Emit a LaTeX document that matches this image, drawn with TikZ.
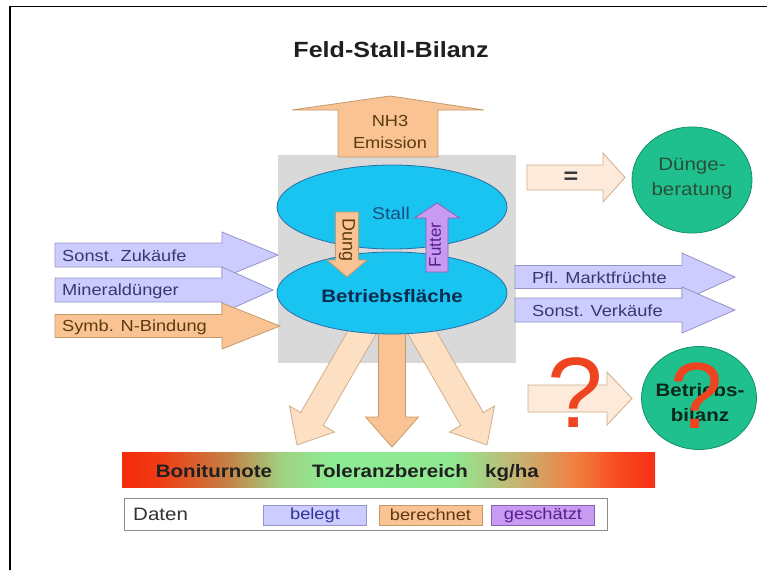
\documentclass[tikz,border=0pt]{standalone}
\usepackage{fontspec}
\setmainfont{Liberation Sans}[FakeStretch=1.14]
\newfontfamily\rotfont{Liberation Sans}
\usetikzlibrary{shapes.geometric}
\definecolor{lav}{HTML}{CCCCFF}
\definecolor{lavline}{HTML}{9494C8}
\definecolor{lavtext}{HTML}{38386E}
\definecolor{peach}{HTML}{F9C393}
\definecolor{peachline}{HTML}{C49A6C}
\definecolor{peachtext}{HTML}{5E3A12}
\definecolor{lightpeach}{HTML}{FDDFC4}
\definecolor{palepeach}{HTML}{FDEADB}
\definecolor{violet}{HTML}{C79BF2}
\definecolor{violetline}{HTML}{8A62B0}
\definecolor{violettext}{HTML}{5A1E8C}
\definecolor{cyanfill}{HTML}{19C4F0}
\definecolor{cyanline}{HTML}{2A6EA8}
\definecolor{greenfill}{HTML}{20C08E}
\definecolor{greenline}{HTML}{12906A}
\definecolor{grayback}{HTML}{D9D9D9}
\definecolor{qred}{HTML}{EE4420}
\definecolor{stalltxt}{HTML}{1A5080}
\definecolor{flaechetxt}{HTML}{0A2C50}
\definecolor{duengetxt}{HTML}{285038}
\definecolor{bilanztxt}{HTML}{0A281A}
\definecolor{belegttxt}{HTML}{323296}
\definecolor{barA}{HTML}{F52A0A}
\definecolor{barB}{HTML}{F03C14}
\definecolor{barC}{HTML}{C48246}
\definecolor{barD}{HTML}{A0D282}
\definecolor{barE}{HTML}{8CEC94}
\definecolor{barF}{HTML}{90E890}
\definecolor{barG}{HTML}{C8B070}
\definecolor{barH}{HTML}{F08040}
\definecolor{barI}{HTML}{F84A20}
\definecolor{barJ}{HTML}{F53015}
\pgfdeclarehorizontalshading{barshade}{100bp}{%
 color(0bp)=(barA); color(25bp)=(barA); color(28.5bp)=(barB); color(35bp)=(barC);
 color(40bp)=(barD); color(45bp)=(barE); color(56bp)=(barF); color(62.5bp)=(barG);
 color(67.5bp)=(barH); color(71.5bp)=(barI); color(75bp)=(barJ); color(100bp)=(barJ)}
\newcommand\arrowRight[7]{% style, x0, x1, x2, yc, hs, hh
 \filldraw[#1] (#2,#5-#6) -- (#3,#5-#6) -- (#3,#5-#7) -- (#4,#5) -- (#3,#5+#7) -- (#3,#5+#6) -- (#2,#5+#6) -- cycle;}
\newcommand\arrowVert[7]{% style, xc, y0, y1, y2, hs, hh
 \filldraw[#1] (#2-#6,#3) -- (#2-#6,#4) -- (#2-#7,#4) -- (#2,#5) -- (#2+#7,#4) -- (#2+#6,#4) -- (#2+#6,#3) -- cycle;}
\tikzset{
 lavarrow/.style={fill=lav, draw=lavline, line width=0.8pt},
 peacharrow/.style={fill=peach, draw=peachline, line width=0.8pt},
 lightarrow/.style={fill=lightpeach, draw=peachline!80, line width=0.8pt},
 palearrow/.style={fill=palepeach, draw=peachline!80, line width=0.8pt},
 violetarrow/.style={fill=violet, draw=violetline, line width=0.8pt},
 arrowlabel/.style={anchor=west, inner sep=0pt, font=\fontsize{16}{18}\selectfont},
 disc/.style={ellipse, fill=greenfill, draw=greenline, line width=0.8pt, inner sep=0pt, minimum width=120pt, minimum height=106pt},
 oval/.style={ellipse, fill=cyanfill, draw=cyanline, line width=0.8pt, inner sep=0pt, minimum width=230pt},
 qmark/.style={text=qred, inner sep=0pt, font=\rotfont\fontsize{100}{104}\selectfont},
 swatch/.style={minimum width=103pt, minimum height=20pt, inner sep=0pt, line width=0.8pt, font=\fontsize{16}{18}\selectfont},
 bartext/.style={font=\bfseries\fontsize{18}{20}\selectfont, text=black!88, inner sep=0pt, anchor=base},
}
\begin{document}
\begin{tikzpicture}[x=1pt,y=-1pt]
\useasboundingbox (0,0) rectangle (767,570);
\fill[white] (0,0) rectangle (767,570);
% frame
\draw[line width=1.8pt] (10,570) -- (10,6.5) -- (767,6.5);
% title
\node[font=\bfseries\fontsize{22}{26}\selectfont, text=black!88] (title) at (391,50) {Feld-Stall-Bilanz};
% grey background
\fill[grayback] (278,155) rectangle (516,363);
% NH3 arrow
\filldraw[peacharrow] (338,157) -- (338,110) -- (292,110) -- (390,96) -- (484,110) -- (438,110) -- (438,157) -- cycle;
\node[font=\fontsize{16}{18}\selectfont, text=peachtext] (nh3) at (390,121) {NH3};
\node[font=\fontsize{16}{18}\selectfont, text=peachtext] (emission) at (390,143) {Emission};
% bottom arrows
\begin{scope}[shift={(368,322)}, rotate=-30]
 \arrowVert{lightarrow}{0}{0}{112}{142}{13}{26}
\end{scope}
\begin{scope}[shift={(416,322)}, rotate=30]
 \arrowVert{lightarrow}{0}{0}{112}{142}{13}{26}
\end{scope}
\arrowVert{peacharrow}{392}{320}{417}{447}{13.5}{26.5}
% ellipses
\node[oval, minimum height=84pt] (stall) at (392,207) {};
\node[oval, minimum height=82pt] (flaeche) at (392,293) {};
\node[font=\fontsize{17}{20}\selectfont, text=stalltxt] (stalltext) at (391,213) {Stall};
\node[font=\bfseries\fontsize{18}{20}\selectfont, text=flaechetxt] (flaechetext) at (392,296) {Betriebsfläche};
% Dung and Futter
\arrowVert{peacharrow}{347}{212}{260}{277}{11.5}{20}
\node[rotate=-90, font=\rotfont\fontsize{18}{20}\selectfont, text=peachtext, inner sep=0pt] (dung) at (347,240) {Dung};
\arrowVert{violetarrow}{437}{272}{218}{203}{11}{22.5}
\node[rotate=90, font=\rotfont\fontsize{17}{20}\selectfont, text=violettext, inner sep=0pt] (futter) at (435,245) {Futter};
% left arrows
\arrowRight{lavarrow}{55}{222}{278}{255}{12}{23}
\node[arrowlabel, text=lavtext] (zukaeufe) at (62,256) {Sonst. Zukäufe};
\arrowRight{lavarrow}{55}{222}{273}{290}{12}{23}
\node[arrowlabel, text=lavtext] (mineral) at (62,291) {Mineraldünger};
\arrowRight{peacharrow}{55}{222}{280}{326}{11.5}{23}
\node[arrowlabel, text=peachtext] (symb) at (62,327) {Symb. N-Bindung};
% right arrows
\arrowRight{lavarrow}{515}{682}{735}{277}{11.5}{24}
\node[arrowlabel, text=lavtext] (markt) at (532,278) {Pfl. Marktfrüchte};
\arrowRight{lavarrow}{515}{682}{735}{310}{12}{23}
\node[arrowlabel, text=lavtext] (verkaeufe) at (532,311) {Sonst. Verkäufe};
% = arrow and Duengeberatung
\arrowRight{palearrow}{527}{603}{625}{177.5}{12.5}{24.5}
\node[font=\bfseries\fontsize{22}{24}\selectfont, text=black!80] (eq) at (571,178) {=};
\node[disc] (duenge) at (692,180) {};
\node[font=\fontsize{18}{20}\selectfont, text=duengetxt, align=center] (duengetext) at (692,179) {Dünge-\\[5pt]beratung};
% ? arrow and Betriebsbilanz
\arrowRight{palearrow}{528}{607}{632}{398.5}{13.5}{26.5}
\node[qmark] (q1) at (575,393) {?};
\node[disc, minimum width=115pt, minimum height=103pt] (bilanz) at (699,398) {};
\node[font=\bfseries\fontsize{18}{20}\selectfont, text=bilanztxt, align=center] (bilanztext) at (700,403) {Betriebs-\\[5pt]bilanz};
\node[qmark, font=\rotfont\fontsize{94}{98}\selectfont] (q2) at (697,396) {?};
% gradient bar
\shade[shading=barshade] (122,452) rectangle (655,487);
\node[bartext] (bonitur) at (214,477) {Boniturnote};
\node[bartext] (toleranz) at (390,477) {Toleranzbereich};
\node[bartext] (kgha) at (512,477) {kg/ha};
% legend
\draw[fill=white, draw=black!45, line width=0.8pt] (124,498) rectangle (607,530);
\node[anchor=west, font=\fontsize{18}{20}\selectfont, text=black!80, inner sep=0pt] (daten) at (133,514) {Daten};
\node[swatch, fill=lav, draw=lavline, text=belegttxt] (belegt) at (315,515) {belegt};
\node[swatch, fill=peach, draw=peachline, text=peachtext] (berechnet) at (430.5,515) {berechnet};
\node[swatch, fill=violet, draw=violetline, text=violettext] (geschaetzt) at (543,515) {geschätzt};
\end{tikzpicture}
\end{document}
